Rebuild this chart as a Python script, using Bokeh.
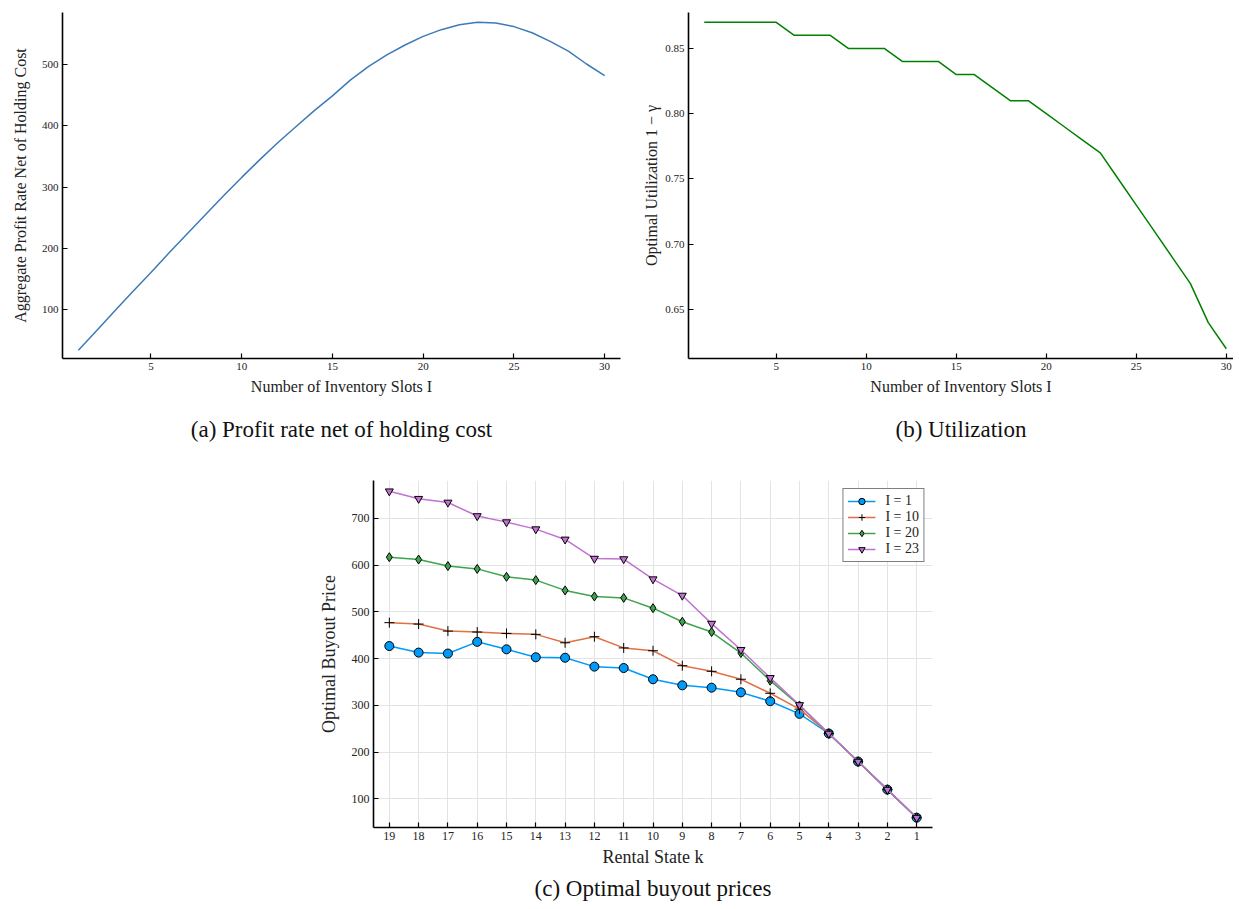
from bokeh.plotting import figure
from bokeh.layouts import column, row
from bokeh.models import Title, Range1d, FixedTicker, PrintfTickFormatter, Legend, LegendItem
from bokeh.embed import file_html
from bokeh.resources import INLINE

# ---------------- data ----------------
slots = [1, 2, 3, 4, 5, 6, 7, 8, 9, 10, 11, 12, 13, 14, 15, 16, 17, 18, 19, 20,
         21, 22, 23, 24, 25, 26, 27, 28, 29, 30]
profit = [34, 66, 98, 130, 161, 193, 224, 255, 286, 316, 345, 373, 399, 425, 449,
          475, 497, 516, 532, 546, 557, 565, 569, 568, 562, 552, 538, 522, 501, 482]
utilization = [0.87, 0.87, 0.87, 0.87, 0.87, 0.86, 0.86, 0.86, 0.85, 0.85,
               0.85, 0.84, 0.84, 0.84, 0.83, 0.83, 0.82, 0.81, 0.81, 0.80,
               0.79, 0.78, 0.77, 0.75, 0.73, 0.71, 0.69, 0.67, 0.64, 0.62]

states = [19, 18, 17, 16, 15, 14, 13, 12, 11, 10, 9, 8, 7, 6, 5, 4, 3, 2, 1]
price_I1 = [427, 413, 411, 436, 420, 403, 402, 383, 380, 356, 343, 338, 328, 309,
            282, 240, 180, 120, 60]
price_I10 = [477, 474, 459, 457, 454, 452, 434, 447, 423, 417, 385, 373, 356, 326,
             292, 240, 180, 120, 60]
price_I20 = [617, 612, 598, 592, 575, 568, 546, 533, 530, 508, 479, 457, 412, 353,
             300, 240, 180, 120, 60]
price_I23 = [758, 742, 734, 705, 692, 677, 655, 614, 613, 570, 535, 475, 419, 359,
             301, 240, 180, 120, 60]
series_labels = ["I = 1", "I = 10", "I = 20", "I = 23"]

captions = ["(a) Profit rate net of holding cost", "(b) Utilization",
            "(c) Optimal buyout prices"]

FONT = "Liberation Serif"
TXT = "#222222"


def style(p, xticks, yticks, grid=False):
    for ax in (p.xaxis[0], p.yaxis[0]):
        ax.axis_line_width = 1.6
        ax.axis_line_color = "black"
        ax.major_tick_in = 5
        ax.major_tick_out = 0
        ax.major_tick_line_color = "black"
        ax.major_tick_line_width = 1.2
        ax.minor_tick_line_color = None
        ax.major_label_text_font = FONT
        ax.major_label_text_color = TXT
        ax.major_label_standoff = 4
        ax.axis_label_text_font = FONT
        ax.axis_label_text_font_style = "normal"
        ax.axis_label_text_color = TXT
    p.xaxis[0].ticker = FixedTicker(ticks=xticks)
    p.yaxis[0].ticker = FixedTicker(ticks=yticks)
    p.outline_line_color = None
    if grid:
        p.xgrid.grid_line_color = "#e3e3e3"
        p.ygrid.grid_line_color = "#e3e3e3"
        p.xgrid.ticker = FixedTicker(ticks=xticks)
        p.ygrid.ticker = FixedTicker(ticks=yticks)
    else:
        p.xgrid.grid_line_color = None
        p.ygrid.grid_line_color = None


def caption(p, text, offset, standoff):
    t = Title(text=text, align="center", offset=offset, text_font=FONT,
              text_font_size="23px", text_font_style="normal", text_color="#111111",
              standoff=standoff)
    p.add_layout(t, "below")


# ---------------- (a) ----------------
p1 = figure(width=638, height=462, output_backend="svg", toolbar_location=None,
            x_range=Range1d(0.125, 30.875), y_range=Range1d(20.6, 585),
            min_border_left=62, min_border_right=18, min_border_top=12,
            min_border_bottom=104)
p1.line(slots, profit, line_color="#3e7ab8", line_width=1.5)
style(p1, [5, 10, 15, 20, 25, 30], [100, 200, 300, 400, 500])
p1.xaxis.axis_label = "Number of Inventory Slots I"
p1.yaxis.axis_label = "Aggregate Profit Rate Net of Holding Cost"
p1.xaxis.major_label_text_font_size = "11px"
p1.yaxis.major_label_text_font_size = "11px"
p1.xaxis.axis_label_text_font_size = "16px"
p1.yaxis.axis_label_text_font_size = "16px"
p1.xaxis.axis_label_standoff = 5
p1.yaxis.axis_label_standoff = 10
caption(p1, captions[0], -30, 35)

# ---------------- (b) ----------------
p2 = figure(width=595, height=462, output_backend="svg", toolbar_location=None,
            x_range=Range1d(0.125, 30.40), y_range=Range1d(0.6125, 0.8775),
            min_border_left=50, min_border_right=0, min_border_top=12,
            min_border_bottom=104)
p2.line(slots, utilization, line_color="#008000", line_width=1.5)
style(p2, [5, 10, 15, 20, 25, 30], [0.65, 0.70, 0.75, 0.80, 0.85])
p2.yaxis.formatter = PrintfTickFormatter(format="%.2f")
p2.xaxis.axis_label = "Number of Inventory Slots I"
p2.yaxis.axis_label = "Optimal Utilization 1 \u2212 \u03b3"
p2.xaxis.major_label_text_font_size = "11px"
p2.yaxis.major_label_text_font_size = "11px"
p2.xaxis.axis_label_text_font_size = "16px"
p2.yaxis.axis_label_text_font_size = "16px"
p2.xaxis.axis_label_standoff = 5
p2.yaxis.axis_label_standoff = 2
caption(p2, captions[1], -26, 35)

# ---------------- (c) ----------------
p3 = figure(width=952, height=447, output_backend="svg", toolbar_location=None,
            x_range=Range1d(19.54, 0.46), y_range=Range1d(39, 781),
            min_border_left=373, min_border_right=20, min_border_top=18,
            min_border_bottom=82)
style(p3, states, [100, 200, 300, 400, 500, 600, 700], grid=True)
p3.xaxis.axis_label = "Rental State k"
p3.yaxis.axis_label = "Optimal Buyout Price"
p3.xaxis.major_label_text_font_size = "12px"
p3.yaxis.major_label_text_font_size = "12px"
p3.xaxis.axis_label_text_font_size = "18px"
p3.yaxis.axis_label_text_font_size = "18px"
p3.xaxis.axis_label_standoff = 4
p3.yaxis.axis_label_standoff = 10

cols = ["#009af9", "#e26f46", "#3da44d", "#c271d2"]
l1 = p3.line(states, price_I1, line_color=cols[0], line_width=1.5)
m1 = p3.scatter(states, price_I1, marker="circle", size=9, fill_color=cols[0],
                line_color="black", line_width=1)
l2 = p3.line(states, price_I10, line_color=cols[1], line_width=1.5)
m2 = p3.scatter(states, price_I10, marker="cross", size=10, line_color="black",
                line_width=1)
l3 = p3.line(states, price_I20, line_color=cols[2], line_width=1.5)
m3 = p3.scatter(states, price_I20, marker="diamond", size=9, fill_color=cols[2],
                line_color="black", line_width=1)
l4 = p3.line(states, price_I23, line_color=cols[3], line_width=1.5)
m4 = p3.scatter(states, price_I23, marker="inverted_triangle", size=8,
                fill_color=cols[3], line_color="black", line_width=1)
legend = Legend(items=[LegendItem(label=series_labels[0], renderers=[l1, m1]),
                       LegendItem(label=series_labels[1], renderers=[l2, m2]),
                       LegendItem(label=series_labels[2], renderers=[l3, m3]),
                       LegendItem(label=series_labels[3], renderers=[l4, m4])],
                location="top_right")
legend.border_line_color = "black"
legend.border_line_width = 1.8
legend.label_text_font = FONT
legend.label_text_font_size = "14px"
legend.label_text_color = TXT
legend.glyph_width = 28
legend.glyph_height = 16
legend.label_height = 16
legend.spacing = 0
legend.padding = 4
legend.margin = 8
legend.label_standoff = 10
p3.add_layout(legend)
caption(p3, captions[2], -27, 8)

layout = column(row(p1, p2), p3)
open("out.html", "w").write(file_html(layout, INLINE))
